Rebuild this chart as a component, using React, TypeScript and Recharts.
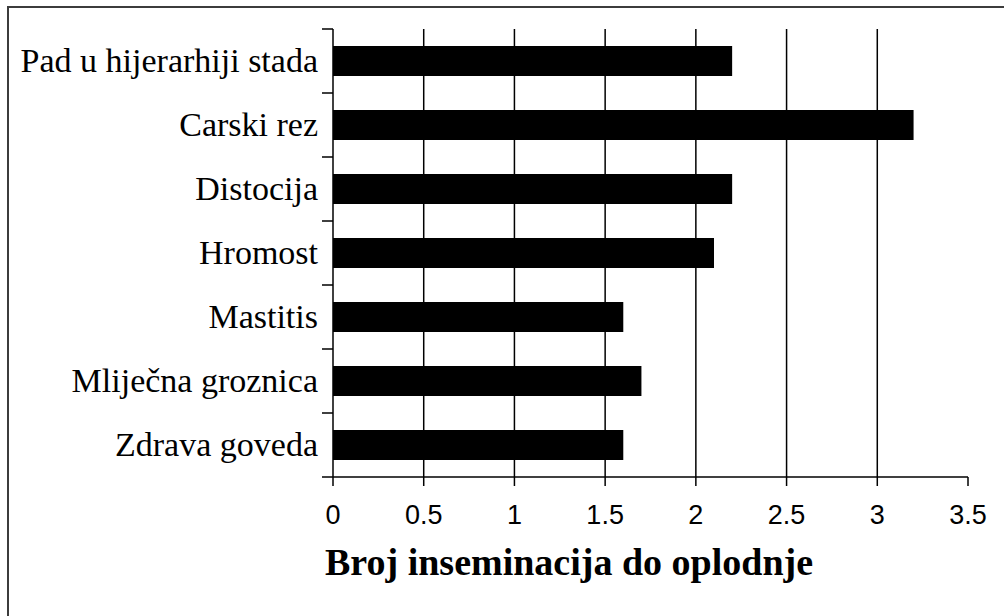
import React from 'react';
import { BarChart, Bar, XAxis, YAxis, ReferenceLine, Label } from 'recharts';

const CATEGORIES = [
  'Pad u hijerarhiji stada',
  'Carski rez',
  'Distocija',
  'Hromost',
  'Mastitis',
  'Mliječna groznica',
  'Zdrava goveda',
];
const VALUES = [2.2, 3.2, 2.2, 2.1, 1.6, 1.7, 1.6];
const X_TICKS = [0, 0.5, 1, 1.5, 2, 2.5, 3, 3.5];
const GRID_VALUES = [0.5, 1, 1.5, 2, 2.5, 3];
const AXIS_TITLE = 'Broj inseminacija do oplodnje';

const W = 1004;
const H = 616;
const TOP = 29;
const RIGHT = 36;
const Y_AXIS_W = 333;
const X_AXIS_H = 139;
const BAND = (H - TOP - X_AXIS_H) / CATEGORIES.length;

const SERIF = '"Liberation Serif", "Times New Roman", serif';
const SANS = '"Liberation Sans", Arial, sans-serif';

const data = CATEGORIES.map((name, i) => ({ name, value: VALUES[i] }));

const CategoryTick = (props: any) => {
  const { x, y, payload, index } = props;
  const last = index === CATEGORIES.length - 1;
  return (
    <g>
      <text
        x={x - 15}
        y={y}
        dy="0.33em"
        textAnchor="end"
        fontFamily={SERIF}
        fontSize={34}
        fill="#000"
      >
        {payload.value}
      </text>
      <line x1={x - 11} x2={x} y1={y - BAND / 2} y2={y - BAND / 2} stroke="#000" strokeWidth={1.5} />
      {last && (
        <line x1={x - 11} x2={x} y1={y + BAND / 2} y2={y + BAND / 2} stroke="#000" strokeWidth={1.5} />
      )}
    </g>
  );
};

const AxisTitle = (props: any) => {
  const { viewBox } = props;
  return (
    <text
      x={viewBox.x - 8}
      y={viewBox.y + 98}
      textAnchor="start"
      fontFamily={SERIF}
      fontWeight="bold"
      fontSize={38}
      fill="#000"
    >
      {AXIS_TITLE}
    </text>
  );
};

export default function App() {
  return (
    <div
      style={{
        position: 'absolute',
        left: 0,
        top: 0,
        width: W,
        height: H,
        overflow: 'hidden',
        background: '#fff',
      }}
    >
      <div
        style={{
          position: 'absolute',
          left: 7,
          top: 6,
          width: W + 20,
          height: H + 20,
          border: '2px solid #3c3c3c',
        }}
      />
      <div style={{ position: 'absolute', left: 0, top: 0 }}>
        <BarChart
          width={W}
          height={H}
          data={data}
          layout="vertical"
          margin={{ top: TOP, right: RIGHT, bottom: 0, left: 0 }}
          barSize={30}
        >
          <XAxis
            type="number"
            domain={[0, 3.5]}
            ticks={X_TICKS}
            interval={0}
            height={X_AXIS_H}
            axisLine={{ stroke: '#000', strokeWidth: 1.5 }}
            tickLine={{ stroke: '#000', strokeWidth: 1.5 }}
            tickSize={9}
            tickMargin={19}
            tick={{ fill: '#000', fontFamily: SANS, fontSize: 27 }}
          >
            <Label content={<AxisTitle />} />
          </XAxis>
          <YAxis
            type="category"
            dataKey="name"
            width={Y_AXIS_W}
            axisLine={{ stroke: '#000', strokeWidth: 1.5 }}
            tickLine={false}
            tickSize={0}
            tickMargin={0}
            interval={0}
            tick={<CategoryTick />}
          />
          {GRID_VALUES.map((v) => (
            <ReferenceLine key={v} x={v} stroke="#000" strokeWidth={1.5} ifOverflow="visible" />
          ))}
          <Bar dataKey="value" fill="#000" isAnimationActive={false} />
        </BarChart>
      </div>
    </div>
  );
}
